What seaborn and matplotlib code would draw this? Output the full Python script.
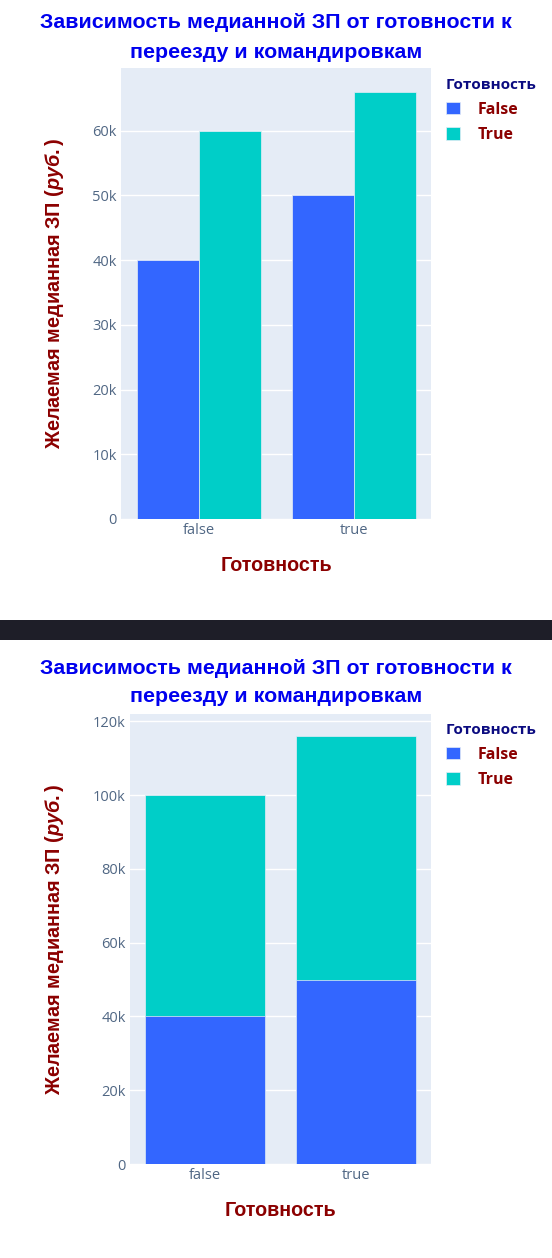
import matplotlib
matplotlib.use('Agg')
import matplotlib.pyplot as plt
import pandas as pd
import seaborn as sns
from matplotlib.ticker import FuncFormatter, MultipleLocator
from matplotlib.patches import Rectangle

# data
categories = ['false', 'true']          # x axis
hue_levels = ['False', 'True']          # legend
median_false = [40000, 50000]
median_true = [60000, 66000]
stack_total = [f + t for f, t in zip(median_false, median_true)]

title_lines = ['Зависимость медианной ЗП от готовности к', 'переезду и командировкам']
x_title = 'Готовность'
y_title = 'Желаемая медианная ЗП $\\mathit{(руб.)}$'
legend_title = 'Готовность'

colors = {'False': '#3366FF', 'True': '#00CEC8'}

sns.set_style('darkgrid', {'axes.facecolor': '#E5ECF6', 'grid.color': 'white'})
plt.rcParams['font.family'] = ['Open Sans', 'DejaVu Sans']
plt.rcParams['mathtext.fontset'] = 'custom'
plt.rcParams['mathtext.rm'] = 'Liberation Sans:bold'
plt.rcParams['mathtext.it'] = 'Liberation Sans:italic:bold'

W, H = 552, 1258
fig = plt.figure(figsize=(W / 100, H / 100), dpi=100)
fig.patch.set_facecolor('white')


def fx(px):
    return px / W


def fy(px):
    return 1 - px / H


def k_fmt(v, pos):
    return '0' if v == 0 else f'{int(round(v / 1000))}k'


def style_axes(ax, step, top):
    ax.set_ylim(0, top)
    ax.yaxis.set_major_locator(MultipleLocator(step))
    ax.yaxis.set_major_formatter(FuncFormatter(k_fmt))
    ax.grid(axis='x', visible=False)
    ax.grid(axis='y', color='white', linewidth=1)
    for s in ax.spines.values():
        s.set_visible(False)
    ax.tick_params(length=0, labelsize=10.5, labelcolor='#506784', pad=3)
    ax.set_xlabel('')
    ax.set_ylabel('')


def add_text(ax_box, title_y, xlabel_y):
    l, b, w, h = ax_box
    for txt, yy in zip(title_lines, title_y):
        fig.text(0.5, fy(yy), txt, ha='center', va='center', color='#0000EE',
                 fontsize=15.4, fontweight='bold', family='Liberation Sans')
    fig.text(l + w / 2, fy(xlabel_y), x_title, ha='center', va='center', color='#8B0000',
             fontsize=14.2, fontweight='bold', family='Liberation Sans')
    fig.text(fx(55), b + h / 2, y_title, ha='center', va='center', rotation=90, color='#8B0000',
             fontsize=14.3, fontweight='bold', family='Liberation Sans')


def add_legend(ax, handles, labels, top_px):
    leg = ax.legend(handles, labels, title=legend_title, loc='upper left',
                    bbox_to_anchor=(fx(446), fy(top_px)), bbox_transform=fig.transFigure,
                    frameon=False, borderaxespad=0, borderpad=0, alignment='left',
                    handlelength=0.85, handleheight=0.85, handletextpad=1.15, labelspacing=0.6,
                    prop={'family': 'Open Sans', 'weight': 'bold', 'size': 11.5})
    leg.get_title().set_fontproperties({'family': 'Open Sans', 'weight': 'bold', 'size': 11})
    leg.get_title().set_color('#0B0B80')
    for t in leg.get_texts():
        t.set_color('#8B0000')


# ---- grouped chart ----
grouped = pd.DataFrame({
    'cat': categories * 2,
    'hue': [hue_levels[0]] * 2 + [hue_levels[1]] * 2,
    'value': median_false + median_true,
})
box1 = [fx(121), fy(519), fx(431) - fx(121), fy(68) - fy(519)]
ax1 = fig.add_axes(box1)
sns.barplot(data=grouped, x='cat', y='value', hue='hue', order=categories, hue_order=hue_levels,
            palette=colors, saturation=1, ax=ax1, edgecolor='#E5ECF6', linewidth=0.5, errorbar=None)
style_axes(ax1, 10000, 69700)
h1, l1 = ax1.get_legend_handles_labels()
add_legend(ax1, h1, l1, 78)
add_text(box1, (22, 52), 566)

# dark separator band
fig.patches.append(Rectangle((0, fy(640)), 1, fy(620) - fy(640), transform=fig.transFigure,
                             facecolor='#1E1E28', edgecolor='none', zorder=0))

# ---- stacked chart ----
box2 = [fx(130), fy(1164), fx(431) - fx(130), fy(714) - fy(1164)]
ax2 = fig.add_axes(box2)
sns.barplot(x=categories, y=stack_total, color=colors['True'], saturation=1, ax=ax2, label='True',
            edgecolor='#E5ECF6', linewidth=0.5, errorbar=None)
sns.barplot(x=categories, y=median_false, color=colors['False'], saturation=1, ax=ax2, label='False',
            edgecolor='#E5ECF6', linewidth=0.5, errorbar=None)
style_axes(ax2, 20000, 122000)
h2, l2 = ax2.get_legend_handles_labels()
order = [l2.index(x) for x in hue_levels]
add_legend(ax2, [h2[i] for i in order], [l2[i] for i in order], 723)
add_text(box2, (668, 697), 1211)

fig.savefig('out.png', dpi=100)
